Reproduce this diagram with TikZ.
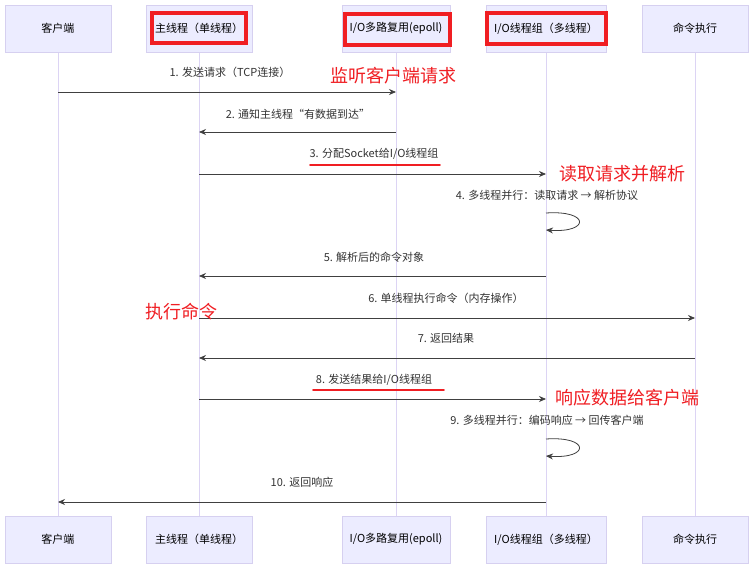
\documentclass[tikz,border=0pt]{standalone}
\usepackage{fontspec}
\setmainfont{Noto Sans CJK SC}
\usetikzlibrary{arrows.meta}
\definecolor{boxfill}{HTML}{ECECFF}
\definecolor{boxline}{HTML}{D6D0F0}
\definecolor{life}{HTML}{DCD4F4}
\definecolor{ann}{HTML}{F01E23}
\tikzset{
 actor/.style={draw=boxline,fill=boxfill,minimum height=47pt,inner sep=0pt,font=\fontsize{11}{12}\selectfont},
 msg/.style={-{Stealth[length=7pt,width=6pt]},draw=black!75,line width=0.8pt},
 lbl/.style={font=\fontsize{11}{12}\selectfont,text=black!80},
 redbox/.style={draw=ann,line width=3.5pt},
 redtxt/.style={text=ann,font=\fontsize{18}{19}\selectfont},
 redline/.style={draw=ann,line width=1.8pt,line cap=round}
}
\begin{document}
\begin{tikzpicture}[x=1pt,y=-1pt]
\useasboundingbox[fill=white] (0,0) rectangle (753,567);
\foreach \n/\x/\w/\t in {c/58/106/{客户端},m/199/106/{主线程（单线程）},i/396/108/{I/O多路复用(epoll)},g/546/120/{I/O线程组（多线程）},e/695/106/{命令执行}}{
 \draw[life,line width=0.8pt] (\x,52) -- (\x,516);
 \node[actor,minimum width=\w pt] (\n t) at (\x,28.5) {\t};
 \node[actor,minimum width=\w pt] (\n b) at (\x,539.5) {\t};
}
\draw[redbox] (152,13) rectangle (246,43);
\draw[redbox] (345,14) rectangle (450,45);
\draw[redbox] (487,13) rectangle (606,44);
% messages
\coordinate (c1) at (58,92); \coordinate (i1) at (396,92);
\draw[msg] (c1) -- (i1);
\node[lbl] at (230,72) {1. 发送请求（TCP连接）};
\coordinate (i2) at (396,132); \coordinate (m2) at (199,132);
\draw[msg] (i2) -- (m2);
\node[lbl] at (298,114) {2. 通知主线程“有数据到达”};
\coordinate (m3) at (199,174); \coordinate (g3) at (546,174);
\draw[msg] (m3) -- (g3);
\node[lbl] at (374,154) {3. 分配Socket给I/O线程组};
\node[lbl] at (547,195) {4. 多线程并行：读取请求 → 解析协议};
\coordinate (g4a) at (546,213); \coordinate (g4b) at (546,230);
\draw[msg] (g4a) .. controls (590,210) and (590,233) .. (g4b);
\coordinate (g5) at (546,276); \coordinate (m5) at (199,276);
\draw[msg] (g5) -- (m5);
\node[lbl] at (374,257) {5. 解析后的命令对象};
\coordinate (m6) at (199,318); \coordinate (e6) at (695,318);
\draw[msg] (m6) -- (e6);
\node[lbl] at (446,298) {6. 单线程执行命令（内存操作）};
\coordinate (e7) at (695,358); \coordinate (m7) at (199,358);
\draw[msg] (e7) -- (m7);
\node[lbl] at (446,338) {7. 返回结果};
\coordinate (m8) at (199,399); \coordinate (g8) at (546,399);
\draw[msg] (m8) -- (g8);
\node[lbl] at (374,380) {8. 发送结果给I/O线程组};
\node[lbl] at (547,420) {9. 多线程并行：编码响应 → 回传客户端};
\coordinate (g9a) at (546,439); \coordinate (g9b) at (546,456);
\draw[msg] (g9a) .. controls (590,436) and (590,459) .. (g9b);
\coordinate (g10) at (546,502); \coordinate (c10) at (58,502);
\draw[msg] (g10) -- (c10);
\node[lbl] at (302,482) {10. 返回响应};
% annotations
\node[redtxt] at (393,76) {监听客户端请求};
\node[redtxt] at (622,174) {读取请求并解析};
\node[redtxt] at (181,312) {执行命令};
\node[redtxt] at (627,398) {响应数据给客户端};
\draw[redline] (310,165) -- (440,165);
\draw[redline] (313,390) -- (444,390);
\end{tikzpicture}
\end{document}
